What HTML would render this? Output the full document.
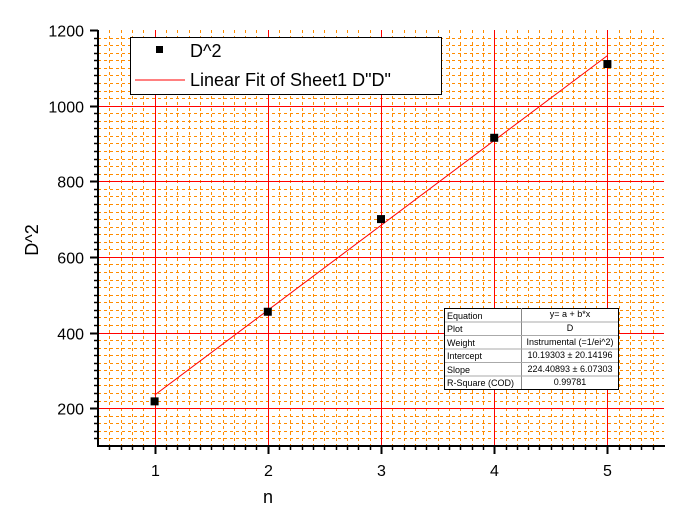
<!DOCTYPE html>
<html><head><meta charset="utf-8"><style>
body{margin:0;background:#fff;}
svg text{font-family:"Liberation Sans",Arial,sans-serif;}
</style></head><body>
<svg id="chart" width="682" height="516" xmlns="http://www.w3.org/2000/svg">
<g id="grid"></g>
<g id="fit"></g>
<g id="pts"></g>
<g id="axes"></g>
<g>
<rect x="130.5" y="37.5" width="311" height="57" fill="#fff" stroke="#000"/>
<rect x="156" y="46" width="7" height="7" fill="#000"/>
<text x="190" y="57" font-size="18">D^2</text>
<line x1="135" y1="80" x2="185" y2="80" stroke="red"/>
<text x="190" y="86" font-size="18">Linear Fit of Sheet1 D"D"</text>
</g>
<g font-size="9">
<rect x="444.5" y="308.5" width="174" height="81" fill="#fff" stroke="#000"/>
<line x1="521.5" y1="308" x2="521.5" y2="389" stroke="#888"/>
<line x1="445" y1="322" x2="618" y2="322" stroke="#aaa"/>
<line x1="445" y1="335.5" x2="618" y2="335.5" stroke="#aaa"/>
<line x1="445" y1="349" x2="618" y2="349" stroke="#aaa"/>
<line x1="445" y1="362.5" x2="618" y2="362.5" stroke="#aaa"/>
<line x1="445" y1="376" x2="618" y2="376" stroke="#aaa"/>
<text x="447" y="319">Equation</text><text x="570" y="317" text-anchor="middle">y= a + b*x</text>
<text x="447" y="332">Plot</text><text x="570" y="331" text-anchor="middle">D</text>
<text x="447" y="346">Weight</text><text x="570" y="345" text-anchor="middle">Instrumental (=1/ei^2)</text>
<text x="447" y="359">Intercept</text><text x="570" y="358" text-anchor="middle">10.19303 ± 20.14196</text>
<text x="447" y="373">Slope</text><text x="570" y="372" text-anchor="middle">224.40893 ± 6.07303</text>
<text x="447" y="386">R-Square (COD)</text><text x="570" y="385" text-anchor="middle">0.99781</text>
</g>
<text x="268" y="503" font-size="18" text-anchor="middle">n</text>
<text x="38" y="240" font-size="18" text-anchor="middle" transform="rotate(-90 38 240)">D^2</text>
</svg>
<script>
const xValues=[1,2,3,4,5];
const yValues=[218,455,700,915,1110];
const fitIntercept=10.19303;
const fitSlope=224.40893;
const xTicks=[1,2,3,4,5];
const yTicks=[200,400,600,800,1000,1200];
const X0=0.5,X1=5.5,Y0=100,Y1=1200,L=98,R=664,T=30,B=446;
const sx=v=>L+(v-X0)/(X1-X0)*(R-L);
const sy=v=>B-(v-Y0)/(Y1-Y0)*(B-T);
const NS="http://www.w3.org/2000/svg";
function mk(p,t,a){const e=document.createElementNS(NS,t);for(const k in a)e.setAttribute(k,a[k]);p.appendChild(e);return e;}
const grid=document.getElementById('grid'),axes=document.getElementById('axes');
for(let i=6;i<55;i++){const v=i/10;if(i%10===0)continue;const x=Math.round(sx(v))+.5;
 const g=mk(grid,'line',{x1:x,y1:T,x2:x,y2:B,stroke:'#ff8c00','stroke-dasharray':'3,3'});
 
 const t=mk(axes,'line',{x1:x,y1:B,x2:x,y2:B+4,stroke:'#000','stroke-width':1.5});
 }
for(let v=120;v<=1200;v+=20){if(v%200===0)continue;const y=Math.round(sy(v))+.5;
 const g=mk(grid,'line',{x1:L,y1:y,x2:R,y2:y,stroke:'#ff8c00','stroke-dasharray':'3,3'});
 
 const t=mk(axes,'line',{x1:L-4,y1:y,x2:L,y2:y,stroke:'#000','stroke-width':1.5});
 }
xTicks.forEach(v=>{const x=Math.round(sx(v))+.5;
 const g=mk(grid,'line',{x1:x,y1:T,x2:x,y2:B,stroke:'red'});
 
 const t=mk(axes,'line',{x1:x,y1:B,x2:x,y2:B+8,stroke:'#000','stroke-width':2});
 
 const l=mk(axes,'text',{x:x,y:B+30,'font-size':16,'text-anchor':'middle'});l.textContent=v;
 });
yTicks.forEach(v=>{const y=Math.round(sy(v))+.5;
 if(v<1200){const g=mk(grid,'line',{x1:L,y1:y,x2:R,y2:y,stroke:'red'});
 }
 const t=mk(axes,'line',{x1:L-8,y1:y,x2:L,y2:y,stroke:'#000','stroke-width':2});
 
 const l=mk(axes,'text',{x:L-14,y:y+6,'font-size':16,'text-anchor':'end'});l.textContent=v;
 });
const ax=mk(axes,'line',{x1:L,y1:B,x2:R+1,y2:B,stroke:'#000','stroke-width':2});

const ay=mk(axes,'line',{x1:L,y1:T,x2:L,y2:B+1,stroke:'#000','stroke-width':2});

const fit=document.getElementById('fit');
const xa=xValues[0],xb=xValues[xValues.length-1];
const fl=mk(fit,'line',{x1:sx(xa),y1:sy(fitIntercept+fitSlope*xa),x2:sx(xb),y2:sy(fitIntercept+fitSlope*xb),stroke:'red'});

const pts=document.getElementById('pts');
xValues.forEach((v,i)=>{const p=mk(pts,'rect',{x:sx(v)-4,y:sy(yValues[i])-4,width:8,height:8,fill:'#000'});
 });
</script>
</body></html>
